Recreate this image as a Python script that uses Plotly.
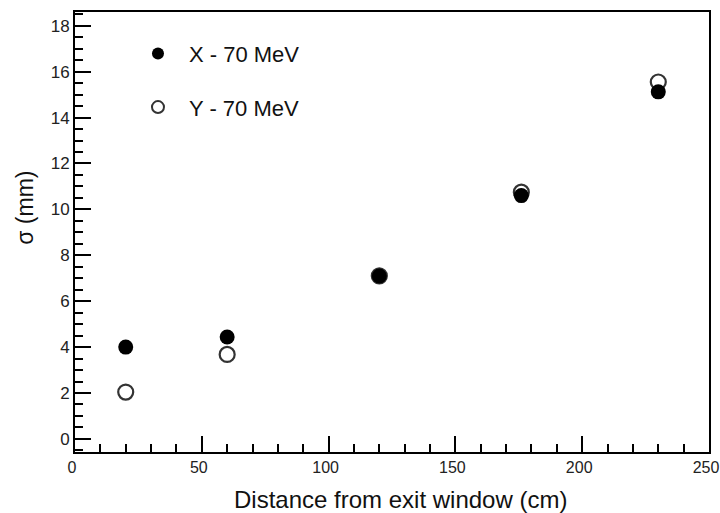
import plotly.graph_objects as go

# Beam spot size vs. distance from exit window (70 MeV)
distance_cm = [20, 60, 120, 176, 230]
sigma_x_mm = [4.0, 4.44, 7.1, 10.6, 15.12]
sigma_y_mm = [2.04, 3.68, 7.1, 10.75, 15.55]

fig = go.Figure()
fig.add_trace(go.Scatter(
    x=distance_cm, y=sigma_y_mm, mode="markers", name="Y - 70 MeV",
    legendgroup="y", legendrank=2,
    marker=dict(symbol="circle-open", size=15, color="#333", line=dict(width=2.2)),
))
fig.add_trace(go.Scatter(
    x=distance_cm, y=sigma_x_mm, mode="markers", name="X - 70 MeV",
    legendgroup="x", legendrank=1,
    marker=dict(symbol="circle", size=15, color="black"),
))

tick_font = dict(family="Liberation Sans Narrow, Arial Narrow, Liberation Sans", size=17, color="#222")
title_font = dict(family="Liberation Sans, Arial", size=23, color="#111")

axis_common = dict(
    showline=True, linewidth=2, linecolor="black", mirror=True,
    ticks="inside", ticklen=16, tickwidth=2, tickcolor="black",
    showgrid=False, zeroline=False, automargin=False,
    ticklabeloverflow="allow",
)

fig.update_xaxes(
    **axis_common, range=[0, 250], dtick=50, tick0=0,
    tickfont=dict(tick_font, size=16), ticklabelshift=-3,
    minor=dict(ticks="inside", ticklen=8, dtick=10, tickwidth=2, tickcolor="black", showgrid=False),
)
fig.update_yaxes(
    **axis_common, range=[-0.57, 18.6], dtick=2, tick0=0,
    tickfont=tick_font,
    minor=dict(ticks="inside", ticklen=8, dtick=0.5, tickwidth=2, tickcolor="black", showgrid=False),
)

# Axis titles
fig.add_annotation(text="Distance from exit window (cm)", xref="paper", yref="paper",
                   x=0.513, y=-0.109, xanchor="center", yanchor="middle",
                   showarrow=False, font=dict(title_font, size=24))
fig.add_annotation(text="σ (mm)", xref="paper", yref="paper",
                   x=-0.079, y=0.555, xanchor="center", yanchor="middle",
                   textangle=-90, showarrow=False, font=title_font)

fig.update_layout(
    width=720, height=513,
    margin=dict(l=75, r=11, t=12, b=61),
    plot_bgcolor="white", paper_bgcolor="white",
    showlegend=True,
    legend=dict(
        x=0.082, y=0.953, xanchor="left", yanchor="top",
        bgcolor="rgba(0,0,0,0)", tracegroupgap=22,
        font=dict(family="Liberation Sans, Arial", size=22, color="#111"),
        itemsizing="constant", itemwidth=52,
    ),
)

fig.write_html("out.html")
